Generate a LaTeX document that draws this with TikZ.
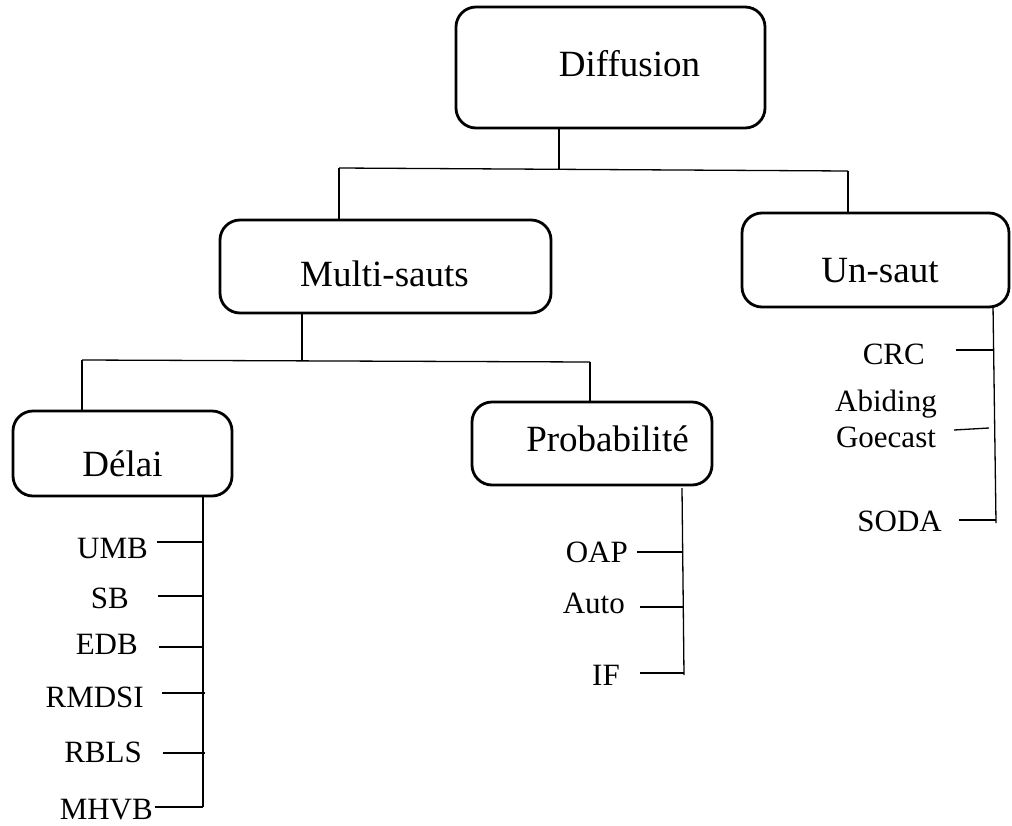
\documentclass[tikz,border=0pt]{standalone}
\usepackage{fontspec}
\setmainfont{Liberation Serif}
\begin{document}
\begin{tikzpicture}[x=1pt,y=-1pt,
  catbox/.style={draw, line width=2.8pt, rounded corners=20pt, inner sep=0pt},
  boxtext/.style={anchor=base, inner sep=0pt, font=\fontsize{37}{40}\selectfont},
  leaf/.style={anchor=base east, inner sep=0pt, font=\fontsize{31}{36}\selectfont},
  wire/.style={line width=1.3pt}]
\useasboundingbox (0,0) rectangle (1012,825);

% category boxes
\node[catbox, minimum width=309pt, minimum height=121pt] (diff)   at (610.5,67.5) {};
\node[catbox, minimum width=331pt, minimum height=93pt]  (multi)  at (385.5,266.5) {};
\node[catbox, minimum width=267pt, minimum height=94pt]  (unsaut) at (875.5,260) {};
\node[catbox, minimum width=219pt, minimum height=85pt]  (delai)  at (122.5,453.5) {};
\node[catbox, minimum width=240pt, minimum height=83pt]  (prob)   at (592,443.5) {};

% box titles
\node[boxtext] (diffT)   at (629.5,76)  {Diffusion};
\node[boxtext] (multiT)  at (384.5,286) {Multi-sauts};
\node[boxtext] (unsautT) at (880,282)   {Un-saut};
\node[boxtext] (delaiT)  at (122.5,476) {Délai};
\node[boxtext] (probT)   at (607.5,451) {Probabilité};

% Diffusion -> Multi-sauts / Un-saut
\coordinate (dj) at (559,169.3);
\coordinate (dL) at (339,168);
\coordinate (dR) at (848,171);
\draw[wire] (diff.south -| dj) -- (dj);
\draw[wire] (dL) -- (dR);
\draw[wire] (dL) -- (dL |- multi.north);
\draw[wire] (dR) -- (dR |- unsaut.north);

% Multi-sauts -> Délai / Probabilité
\coordinate (mj) at (302,360.4);
\coordinate (mL) at (82,360);
\coordinate (mR) at (590,362);
\draw[wire] (multi.south -| mj) -- (mj);
\draw[wire] (mL) -- (mR);
\draw[wire] (mL) -- (mL |- delai.north);
\draw[wire] (mR) -- (mR |- prob.north);

% Délai leaves
\node[leaf] (umb)   at (148,558) {UMB};
\node[leaf] (sb)    at (129,608) {SB};
\node[leaf] (edb)   at (138,654) {EDB};
\node[leaf] (rmdsi) at (144,707) {RMDSI};
\node[leaf] (rbls)  at (142,762) {RBLS};
\node[leaf] (mhvb)  at (153,819) {MHVB};
\coordinate (dbot) at (203,807);
\draw[wire] (delai.south -| dbot) -- (dbot);
\coordinate (tumb)   at (157,542);
\coordinate (tsb)    at (158,596);
\coordinate (tedb)   at (159,647);
\coordinate (trmdsi) at (162,693);
\coordinate (trbls)  at (163,753);
\coordinate (tmhvb)  at (155,807);
\draw[wire] (tumb) -- (tumb -| dbot);
\draw[wire] (tsb) -- (tsb -| dbot);
\draw[wire] (tedb) -- (tedb -| dbot);
\draw[wire] (trmdsi) -- ++(43,0);
\draw[wire] (trbls) -- ++(42,0);
\draw[wire] (tmhvb) -- (dbot);

% Probabilité leaves
\node[leaf] (oap)  at (628,562) {OAP};
\node[leaf] (auto) at (625,613) {Auto};
\node[leaf] (iff)  at (620,685) {IF};
\coordinate (ptop) at (682,488);
\coordinate (pbot) at (684,675);
\draw[wire] (ptop) -- (pbot);
\coordinate (toap)  at (637,552);
\coordinate (tauto) at (640,607);
\coordinate (tif)   at (640,673);
\draw[wire] (toap) -- ++(45,0);
\draw[wire] (tauto) -- ++(44,0);
\draw[wire] (tif) -- ++(44,0);

% Un-saut leaves
\node[leaf] (crc)  at (925,364) {CRC};
\node[inner sep=0pt, align=center, font=\fontsize{31}{36}\selectfont] (ag) at (886,419.3) {Abiding\\Goecast};
\node[leaf] (soda) at (942,531) {SODA};
\coordinate (utop) at (993,305);
\coordinate (ubot) at (996,523);
\draw[wire] (utop) -- (ubot);
\coordinate (tcrc)  at (956,350);
\coordinate (tag)   at (954,430);
\coordinate (tsoda) at (959,520);
\draw[wire] (tcrc) -- ++(37,0);
\draw[wire] (tag) -- ++(35,-2);
\draw[wire] (tsoda) -- (tsoda -| ubot);
\end{tikzpicture}
\end{document}
